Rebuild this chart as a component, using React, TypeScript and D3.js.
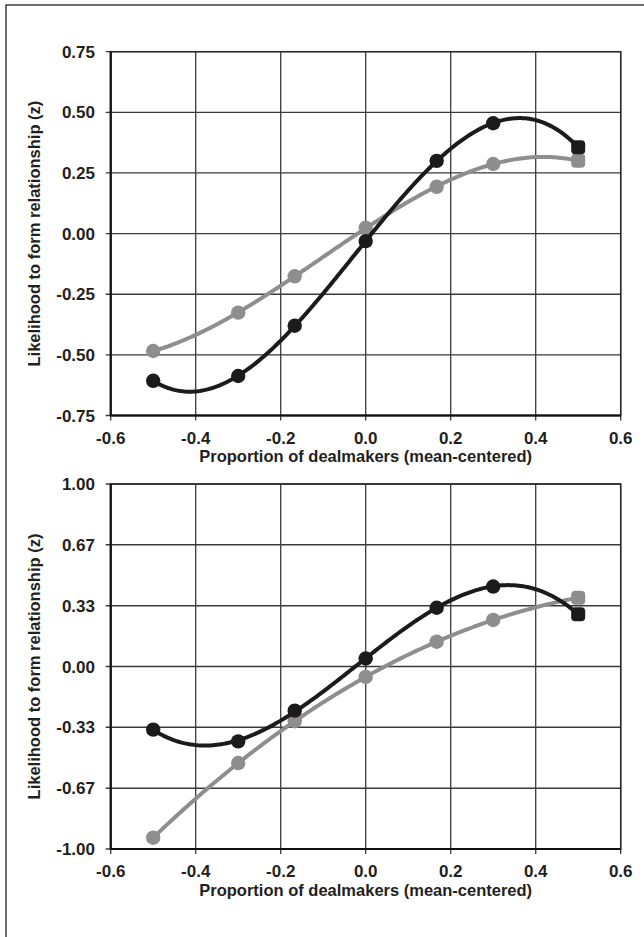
import React from "react";
import * as d3 from "d3";

// dealmaker proportion (mean-centered) at each condition
const xValues = [-0.5, -0.3, -0.167, 0, 0.167, 0.3, 0.5];
const xTicks = [-0.6, -0.4, -0.2, 0, 0.2, 0.4, 0.6];
const xTickLabels = ["-0.6", "-0.4", "-0.2", "0.0", "0.2", "0.4", "0.6"];

// top panel
const topBlack = [-0.607, -0.587, -0.38, -0.031, 0.3, 0.455, 0.356];
const topGray = [-0.484, -0.326, -0.176, 0.024, 0.193, 0.287, 0.3];
const topTicks = [-0.75, -0.5, -0.25, 0, 0.25, 0.5, 0.75];
const topTickLabels = ["-0.75", "-0.50", "-0.25", "0.00", "0.25", "0.50", "0.75"];

// bottom panel
const bottomBlack = [-0.346, -0.41, -0.242, 0.044, 0.322, 0.438, 0.286];
const bottomGray = [-0.938, -0.529, -0.3, -0.057, 0.136, 0.255, 0.377];
const bottomTicks = [-1, -0.667, -0.333, 0, 0.333, 0.667, 1];
const bottomTickLabels = ["-1.00", "-0.67", "-0.33", "0.00", "0.33", "0.67", "1.00"];

const xTitle = "Proportion of dealmakers (mean-centered)";
const yTitle = "Likelihood to form relationship (z)";

const FONT = "'Liberation Sans', Arial, Helvetica, sans-serif";
const TEXT = "#231f20";
const BLACK = "#1c1a1b";
const GRAY = "#8e8e90";

const left = 110.7;
const plotW = 510;

// least-squares cubic trendline (like excel's polynomial trendline)
const cubicFit = (xs: number[], ys: number[]) => {
  const n = 4;
  const A: number[][] = [];
  for (let r = 0; r < n; r++) {
    const row: number[] = [];
    for (let c = 0; c < n; c++) row.push(d3.sum(xs, (x) => Math.pow(x, r + c)));
    row.push(d3.sum(xs, (x, i) => Math.pow(x, r) * ys[i]));
    A.push(row);
  }
  for (let i = 0; i < n; i++) {
    let p = i;
    for (let k = i + 1; k < n; k++) if (Math.abs(A[k][i]) > Math.abs(A[p][i])) p = k;
    [A[i], A[p]] = [A[p], A[i]];
    for (let k = i + 1; k < n; k++) {
      const f = A[k][i] / A[i][i];
      for (let c = i; c <= n; c++) A[k][c] -= f * A[i][c];
    }
  }
  const coef = new Array(n).fill(0);
  for (let i = n - 1; i >= 0; i--) {
    let s = A[i][n];
    for (let c = i + 1; c < n; c++) s -= A[i][c] * coef[c];
    coef[i] = s / A[i][i];
  }
  return (x: number) => coef[0] + coef[1] * x + coef[2] * x * x + coef[3] * x * x * x;
};

type PanelProps = {
  top: number;
  height: number;
  ticks: number[];
  tickLabels: string[];
  black: number[];
  gray: number[];
};

const Panel = ({ top, height, ticks, tickLabels, black, gray }: PanelProps) => {
  const x = d3.scaleLinear().domain([-0.6, 0.6]).range([left, left + plotW]);
  const y = d3
    .scaleLinear()
    .domain([ticks[0], ticks[ticks.length - 1]])
    .range([top + height, top]);
  const xMin = d3.min(xValues) as number;
  const xMax = d3.max(xValues) as number;
  const bottom = top + height;

  const series = [
    { vals: gray, color: GRAY },
    { vals: black, color: BLACK },
  ];

  return (
    <g>
      {/* grid */}
      {xTicks.map((t) => (
        <line key={"gx" + t} x1={x(t)} x2={x(t)} y1={top} y2={bottom + 5} stroke="#3a3a3a" strokeWidth={1.3} />
      ))}
      {ticks.map((t) => (
        <line key={"gy" + t} x1={left - 5} x2={left + plotW} y1={y(t)} y2={y(t)} stroke="#3a3a3a" strokeWidth={1.3} />
      ))}
      <rect x={left} y={top} width={plotW} height={height} fill="none" stroke="#2a2a2a" strokeWidth={1.5} />
      <line x1={left} x2={left} y1={top} y2={bottom} stroke="#111" strokeWidth={2.2} />
      <line x1={left} x2={left + plotW} y1={bottom} y2={bottom} stroke="#111" strokeWidth={2.2} />

      {/* series */}
      {series.map((s, si) => {
        const f = cubicFit(xValues, s.vals);
        const xs = d3.ticks(xMin, xMax, 200);
        const line = d3
          .line<number>()
          .x((d) => x(d))
          .y((d) => y(f(d)));
        return (
          <g key={si}>
            <path d={line(xs) || ""} fill="none" stroke={s.color} strokeWidth={4} strokeLinecap="round" />
            {s.vals.map((v, i) =>
              i === s.vals.length - 1 ? (
                <rect key={i} x={x(xValues[i]) - 7} y={y(v) - 7} width={14} height={14} rx={4} fill={s.color} />
              ) : (
                <circle key={i} cx={x(xValues[i])} cy={y(v)} r={7.2} fill={s.color} />
              )
            )}
          </g>
        );
      })}

      {/* y tick labels */}
      {ticks.map((t, i) => (
        <text key={"yl" + t} x={95} y={y(t)} dy="0.36em" textAnchor="end" fontSize={17} fontWeight="bold" fill={TEXT}>
          {tickLabels[i]}
        </text>
      ))}
      {/* x tick labels */}
      {xTicks.map((t, i) => (
        <text key={"xl" + t} x={x(t)} y={bottom + 22} dy="0.36em" textAnchor="middle" fontSize={17} fontWeight="bold" fill={TEXT}>
          {xTickLabels[i]}
        </text>
      ))}
      <text x={left + plotW / 2} y={bottom + 41} dy="0.36em" textAnchor="middle" fontSize={16.5} fontWeight="bold" fill={TEXT}>
        {xTitle}
      </text>
      <text
        transform={`translate(34,${top + height / 2}) rotate(-90)`}
        dy="0.36em"
        textAnchor="middle"
        fontSize={16.5}
        fontWeight="bold"
        fill={TEXT}
      >
        {yTitle}
      </text>
    </g>
  );
};

export default function App() {
  return (
    <svg
      width={644}
      height={937}
      style={{ position: "absolute", left: 0, top: 0, background: "#fff", fontFamily: FONT }}
    >
      <rect x={0} y={0} width={644} height={937} fill="#fff" />
      <rect x={6} y={5} width={700} height={1000} fill="none" stroke="#222" strokeWidth={1.3} />
      <Panel top={51.7} height={363.8} ticks={topTicks} tickLabels={topTickLabels} black={topBlack} gray={topGray} />
      <Panel top={484} height={365} ticks={bottomTicks} tickLabels={bottomTickLabels} black={bottomBlack} gray={bottomGray} />
    </svg>
  );
}
